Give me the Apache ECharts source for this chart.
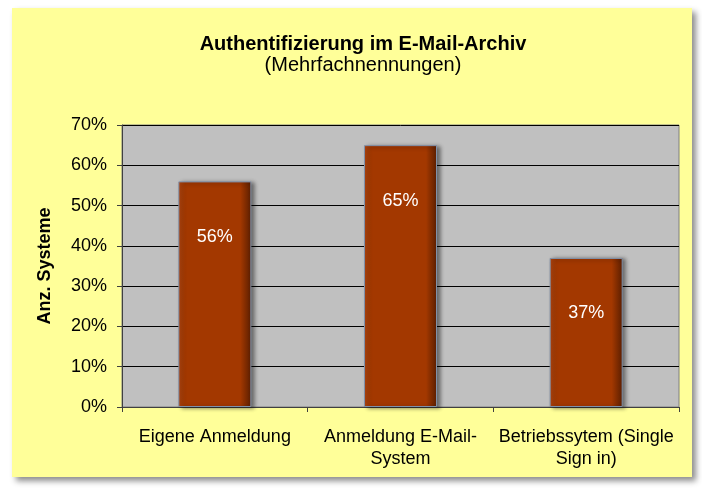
<html>
<head>
    <script src="https://cdn.jsdelivr.net/npm/echarts@6.0.0/dist/echarts.min.js"></script>
    <style>
        body { margin: 0; background: #fff; }
        #chart { width: 702px; height: 489px; }
    </style>
</head>
<body>
    <div id="chart"></div>
    <script>
        const categories = ['Eigene Anmeldung', 'Anmeldung E-Mail-\nSystem', 'Betriebssytem (Single\nSign in)'];
        const values = [56, 65, 37];
        const yTicks = [0, 10, 20, 30, 40, 50, 60, 70];

        const font = '"Liberation Sans", Arial, sans-serif';
        const chart = echarts.init(document.getElementById('chart'));

        chart.setOption({
            animation: false,
            textStyle: { fontFamily: font, color: '#000' },
            graphic: [{
                type: 'rect',
                z: -10,
                shape: { x: 12, y: 8, width: 680, height: 469 },
                style: {
                    fill: '#FFFF99',
                    shadowBlur: 6,
                    shadowOffsetX: 4,
                    shadowOffsetY: 4,
                    shadowColor: 'rgba(0,0,0,0.45)'
                }
            }],
            title: [{
                text: 'Authentifizierung im E-Mail-Archiv',
                left: 358,
                textAlign: 'center',
                top: 22,
                textStyle: { fontFamily: font, fontSize: 20, fontWeight: 'bold', color: '#000' }
            }, {
                text: '(Mehrfachnennungen)',
                left: 358,
                textAlign: 'center',
                top: 43,
                textStyle: { fontFamily: font, fontSize: 20, fontWeight: 'normal', color: '#000' }
            }],
            grid: {
                left: 122, top: 125, width: 557, height: 282,
                show: true,
                backgroundColor: '#C0C0C0',
                borderColor: '#808080',
                borderWidth: 1
            },
            xAxis: {
                type: 'category',
                data: categories,
                axisLine: { lineStyle: { color: '#404040' } },
                axisTick: { show: true, length: 5, lineStyle: { color: '#404040' } },
                axisLabel: { fontSize: 18, color: '#000', margin: 19, lineHeight: 22, interval: 0 }
            },
            yAxis: {
                type: 'value',
                min: yTicks[0],
                max: yTicks[yTicks.length - 1],
                interval: 10,
                name: 'Anz. Systeme',
                nameLocation: 'middle',
                nameGap: 55,
                nameTextStyle: { fontSize: 18, fontWeight: 'bold', color: '#000' },
                axisLine: { show: true, lineStyle: { color: '#404040' } },
                axisTick: { show: true, length: 5, lineStyle: { color: '#404040' } },
                axisLabel: { fontSize: 18, color: '#000', margin: 15, formatter: '{value}%' },
                splitLine: { lineStyle: { color: '#000', width: 1 } }
            },
            series: [{
                type: 'bar',
                data: values,
                barWidth: 73,
                itemStyle: {
                    color: new echarts.graphic.LinearGradient(0, 0, 1, 0, [
                        { offset: 0, color: '#B04510' },
                        { offset: 0.1, color: '#A33800' },
                        { offset: 0.85, color: '#A33800' },
                        { offset: 1, color: '#5A1E00' }
                    ]),
                    borderColor: '#8090A8',
                    borderWidth: 1,
                    shadowColor: 'rgba(0,0,0,0.45)',
                    shadowBlur: 4,
                    shadowOffsetX: 3,
                    shadowOffsetY: 1
                },
                label: {
                    show: true,
                    position: 'insideTop',
                    distance: 40,
                    color: '#fff',
                    fontSize: 18,
                    fontFamily: font,
                    formatter: '{c}%'
                }
            }]
        });
    </script>
</body>
</html>
